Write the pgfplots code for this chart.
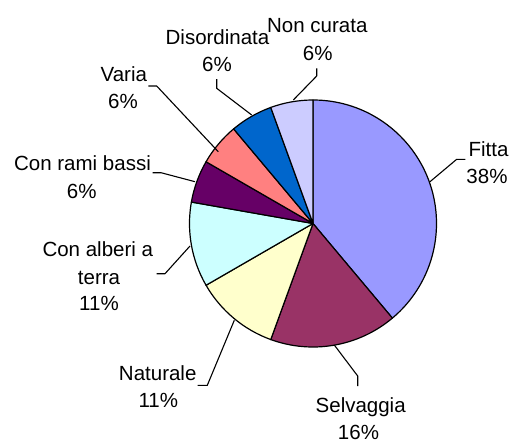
\documentclass[border=0pt]{standalone}
\usepackage{pgfplots}
\pgfplotsset{compat=1.18}
\usepackage{fontspec}
\setmainfont{Liberation Sans}
\definecolor{cFitta}{HTML}{9999FF}
\definecolor{cSelv}{HTML}{993366}
\definecolor{cNat}{HTML}{FFFFCC}
\definecolor{cAlb}{HTML}{CCFFFF}
\definecolor{cRami}{HTML}{660066}
\definecolor{cVaria}{HTML}{FF8080}
\definecolor{cDis}{HTML}{0066CC}
\definecolor{cNonc}{HTML}{CCCCFF}
% #1 = count before this slice, #2 = count of slice, #3 = colour (total 18)
\newcommand\pieslice[3]{%
  \filldraw[fill=#3, draw=black, line width=1.2pt, line join=round]
    (axis cs:313,223.5) -- ++({90-360*(#1)/18}:123.5pt)
    arc[start angle={90-360*(#1)/18}, end angle={90-360*(#1+#2)/18}, radius=123.5pt] -- cycle;}
\tikzset{lbl/.style={anchor=base, inner sep=0pt, font=\fontsize{20.5pt}{26pt}\selectfont}}
\begin{document}
\begin{tikzpicture}
\begin{axis}[
  scale only axis, width=512pt, height=442pt,
  xmin=0, xmax=512, ymin=0, ymax=442, y dir=reverse,
  hide axis, clip=false]
\path (rel axis cs:0,0) rectangle (rel axis cs:1,1);
% data: Fitta 7, Selvaggia 3, Naturale 2, Con alberi a terra 2, Con rami bassi 1, Varia 1, Disordinata 1, Non curata 1
\pieslice{0}{7}{cFitta}
\pieslice{7}{3}{cSelv}
\pieslice{10}{2}{cNat}
\pieslice{12}{2}{cAlb}
\pieslice{14}{1}{cRami}
\pieslice{15}{1}{cVaria}
\pieslice{16}{1}{cDis}
\pieslice{17}{1}{cNonc}
% leader lines
\draw[line width=1.1pt] (axis cs:465.3,159.3) -- (axis cs:456.7,159.3) -- (axis cs:430,181.7);
\draw[line width=1.1pt] (axis cs:357.7,386) -- (axis cs:357.7,376) -- (axis cs:334.3,345);
\draw[line width=1.1pt] (axis cs:197.7,385.3) -- (axis cs:207.3,385.3) -- (axis cs:234.3,320.3);
\draw[line width=1.1pt] (axis cs:156.7,273.7) -- (axis cs:165,273.7) -- (axis cs:190,246);
\draw[line width=1.1pt] (axis cs:152.7,172.7) -- (axis cs:161,172.7) -- (axis cs:195,181.7);
\draw[line width=1.1pt] (axis cs:148.3,86) -- (axis cs:156.7,86) -- (axis cs:218.3,151.7);
\draw[line width=1.1pt] (axis cs:216.7,79) -- (axis cs:216.7,88.3) -- (axis cs:251.7,115);
\draw[line width=1.1pt] (axis cs:316.7,68.3) -- (axis cs:316.7,76) -- (axis cs:293.3,100);
% labels
\node[lbl] at (axis cs:488.5,156.7) {Fitta};
\node[lbl] at (axis cs:487,183.3) {38\%};
\node[lbl] at (axis cs:360.7,412) {Selvaggia};
\node[lbl] at (axis cs:358.5,439) {16\%};
\node[lbl] at (axis cs:157.7,380.3) {Naturale};
\node[lbl] at (axis cs:158.3,407.7) {11\%};
\node[lbl] at (axis cs:97.8,256) {Con alberi a};
\node[lbl] at (axis cs:99,284.3) {terra};
\node[lbl] at (axis cs:99,310.3) {11\%};
\node[lbl] at (axis cs:82.5,170.7) {Con rami bassi};
\node[lbl] at (axis cs:81.7,198.3) {6\%};
\node[lbl] at (axis cs:123.8,81.7) {Varia};
\node[lbl] at (axis cs:123,108.3) {6\%};
\node[lbl] at (axis cs:217.5,44.3) {Disordinata};
\node[lbl] at (axis cs:217,71.7) {6\%};
\node[lbl] at (axis cs:317.3,32.3) {Non curata};
\node[lbl] at (axis cs:317.7,60.7) {6\%};
\end{axis}
\end{tikzpicture}
\end{document}
